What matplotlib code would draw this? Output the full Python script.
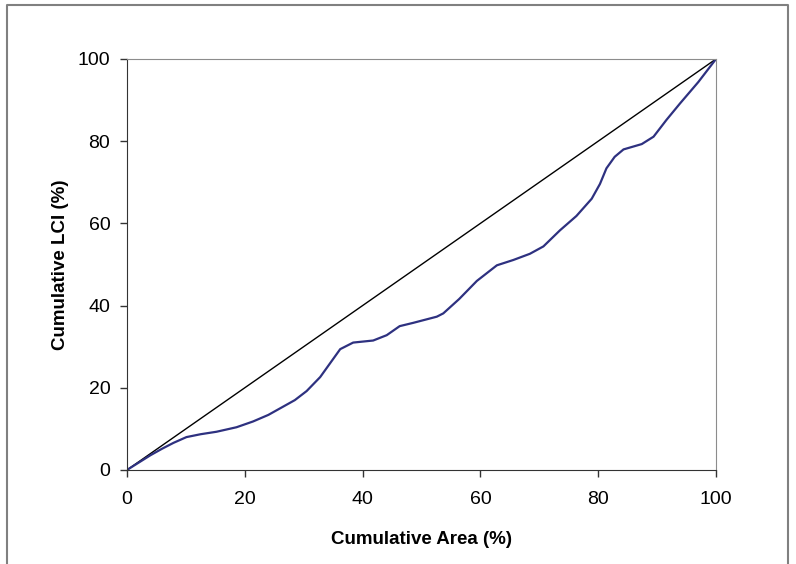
import matplotlib
matplotlib.use("Agg")
import matplotlib.pyplot as plt
from matplotlib.lines import Line2D

# data (Lorenz-type curve)
cum_area = [0, 2, 4, 6, 7.9, 10.1, 12.5, 15.2, 18.6, 21.4, 24, 26, 28.5, 30.5, 32.8,
            34.5, 36.2, 38.4, 41.8, 44.1, 46.3, 48.6, 52.6, 53.7, 56.4, 59.4, 62.8,
            65.6, 68.4, 70.7, 73.5, 76.3, 78.9, 80.3, 81.4, 82.8, 84.3, 87.4, 89.4,
            91.6, 93.9, 97, 100]
cum_lci = [0, 1.8, 3.6, 5.2, 6.6, 8.0, 8.7, 9.3, 10.4, 11.8, 13.4, 15.0, 17.0, 19.2, 22.6,
           26.0, 29.4, 31.0, 31.5, 32.8, 35.0, 35.8, 37.3, 38.1, 41.6, 46.0, 49.8,
           51.1, 52.6, 54.4, 58.3, 61.8, 66.0, 69.6, 73.4, 76.2, 78.0, 79.3, 81.1,
           85.2, 89.2, 94.4, 100]
equality = [0, 100]

plt.rcParams['font.family'] = ['Liberation Sans', 'DejaVu Sans']

fig = plt.figure(figsize=(7.96, 5.64), dpi=100)
ax = fig.add_axes([0.1595, 0.1667, 0.74, 0.7287])

ax.plot(equality, equality, color="black", lw=1.0)
ax.plot(cum_area, cum_lci, color="#2E3180", lw=1.6,
        solid_joinstyle="round", solid_capstyle="round")

ax.set_xlim(0, 100)
ax.set_ylim(0, 100)
ax.set_xticks([0, 20, 40, 60, 80, 100])
ax.set_yticks([0, 20, 40, 60, 80, 100])
ax.tick_params(direction="out", length=5, width=1, labelsize=14, color="#333333")
ax.tick_params(axis="x", pad=10)
ax.tick_params(axis="y", pad=7)

for side in ["top", "right"]:
    ax.spines[side].set_color("#8c8c8c")
for side in ["left", "bottom"]:
    ax.spines[side].set_color("#333333")

ax.set_xlabel("Cumulative Area (%)", fontsize=13.5, fontweight="bold", labelpad=17)
ax.set_ylabel("Cumulative LCI (%)", fontsize=13.5, fontweight="bold", labelpad=6)

# outer border (left, top, right)
fx = [7 / 796, 7 / 796, 788 / 796, 788 / 796]
fy = [0, 1 - 5 / 564, 1 - 5 / 564, 0]
fig.add_artist(Line2D(fx, fy, color="#808080", lw=1.5, transform=fig.transFigure))

fig.savefig("out.png", dpi=100)
